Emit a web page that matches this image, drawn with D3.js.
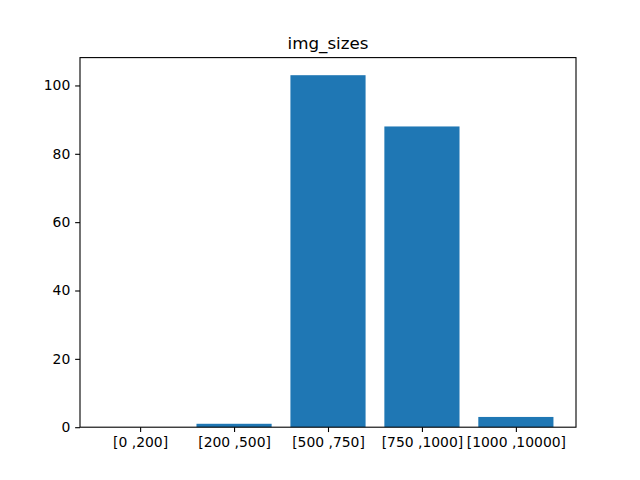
<!DOCTYPE html>
<html lang="en">
<head>
  <meta charset="UTF-8">
  <title>img_sizes</title>
  <style>
    html, body { margin: 0; background: #fff; }
    svg { display: block; }
    text { font-family: 'DejaVu Sans', sans-serif; }
  </style>
  <script src="https://cdn.jsdelivr.net/npm/d3@7/dist/d3.min.js"></script>
</head>
<body>
  <script>
    // data
    const categories = ['[0 ,200]', '[200 ,500]', '[500 ,750]', '[750 ,1000]', '[1000 ,10000]']
    const counts = [0, 1, 103, 88, 3]
    const yTicks = [0, 20, 40, 60, 80, 100]

    const width = 640
    const height = 480
    const margin = { left: 80, right: 64, top: 57.6, bottom: 52.8 }
    const barWidth = 0.8

    const svg = d3.select('body').append('svg')
      .attr('width', width)
      .attr('height', height)

    // x like matplotlib: bars span -0.4..4.4, plus 5% margin
    const x0 = -barWidth / 2
    const x1 = categories.length - 1 + barWidth / 2
    const xPad = (x1 - x0) * 0.05
    const xScale = d3.scaleLinear()
      .domain([x0 - xPad, x1 + xPad])
      .range([margin.left, width - margin.right])

    const yMax = d3.max(counts) * 1.05
    const yScale = d3.scaleLinear()
      .domain([0, yMax])
      .range([height - margin.bottom, margin.top])

    // bars
    svg.selectAll('.bar')
      .data(counts)
      .enter()
      .append('rect')
      .attr('class', 'bar')
      .attr('x', (d, i) => xScale(i - barWidth / 2))
      .attr('width', (d, i) => xScale(i + barWidth / 2) - xScale(i - barWidth / 2))
      .attr('y', d => yScale(d))
      .attr('height', d => yScale(0) - yScale(d))
      .attr('fill', '#1f77b4')

    // axes
    const xAxis = d3.axisBottom(xScale)
      .tickValues(d3.range(categories.length))
      .tickFormat(i => categories[i])
      .tickSize(4.86)
      .tickPadding(4.86)
      .tickSizeOuter(0)
    const gx = svg.append('g')
      .attr('transform', `translate(0, ${height - margin.bottom})`)
      .call(xAxis)

    const yAxis = d3.axisLeft(yScale)
      .tickValues(yTicks)
      .tickSize(4.86)
      .tickPadding(4.86)
      .tickSizeOuter(0)
    const gy = svg.append('g')
      .attr('transform', `translate(${margin.left}, 0)`)
      .call(yAxis)

    ;[gx, gy].forEach(g => {
      g.select('.domain').remove()
      g.selectAll('.tick line').attr('stroke', '#000').attr('stroke-width', 1.1)
      g.selectAll('.tick text')
        .attr('fill', '#000')
        .style('font-size', '13.9px')
        .style('font-family', "'DejaVu Sans', sans-serif")
    })

    // frame
    svg.append('rect')
      .attr('x', margin.left)
      .attr('y', margin.top)
      .attr('width', width - margin.left - margin.right)
      .attr('height', height - margin.top - margin.bottom)
      .attr('fill', 'none')
      .attr('stroke', '#000')
      .attr('stroke-width', 1.1)

    // title
    svg.append('text')
      .attr('x', (margin.left + width - margin.right) / 2)
      .attr('y', margin.top - 8.3)
      .attr('text-anchor', 'middle')
      .style('font-size', '16.7px')
      .text('img_sizes')
  </script>
</body>
</html>
